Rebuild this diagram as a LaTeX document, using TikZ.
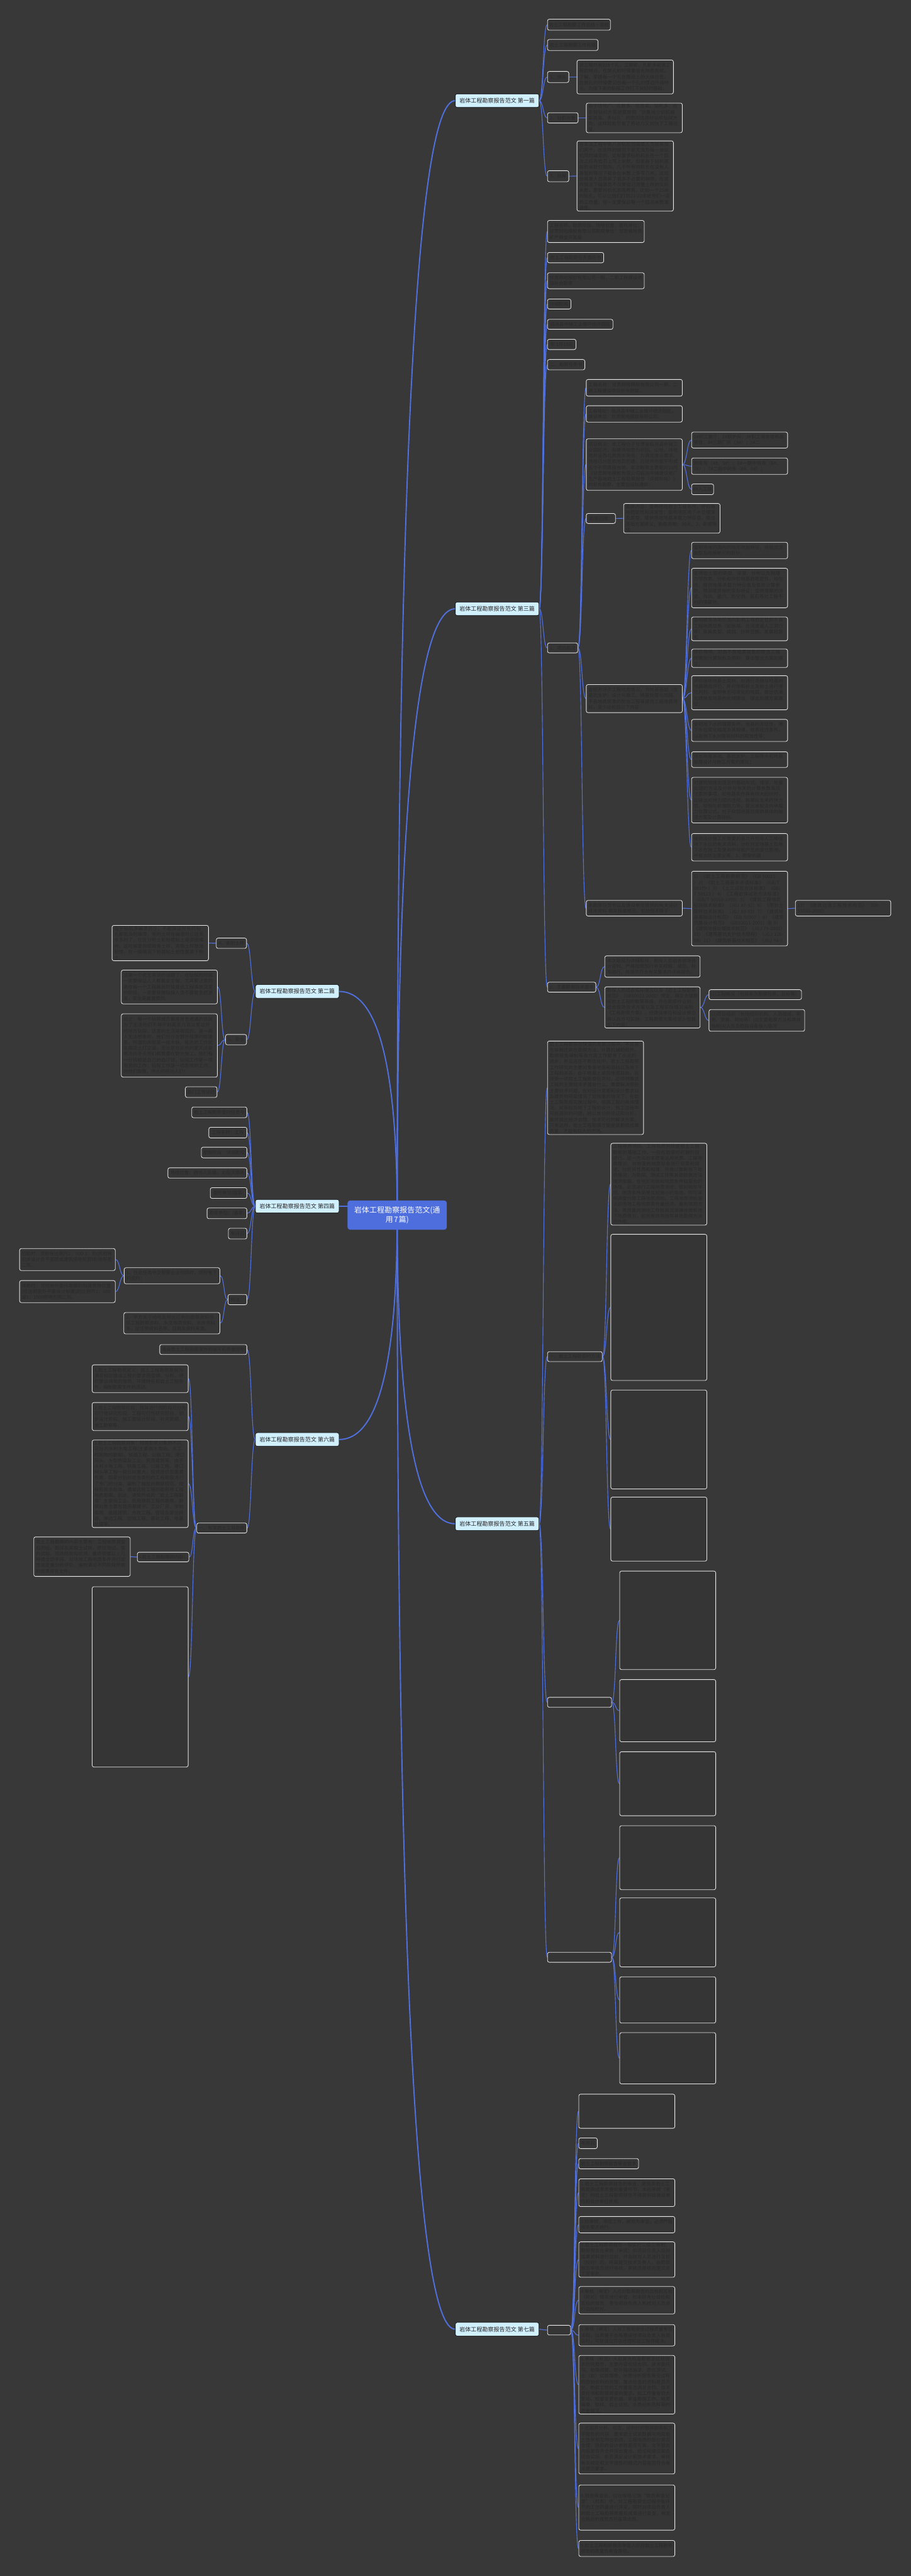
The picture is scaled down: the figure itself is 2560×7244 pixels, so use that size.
\documentclass[tikz,border=0pt]{standalone}
\usepackage{fontspec}
\setmainfont{Noto Sans CJK SC}
\XeTeXlinebreaklocale "zh"
\XeTeXlinebreakskip=0pt plus 1pt
\usetikzlibrary{calc}
\definecolor{bgc}{RGB}{57,56,56}
\definecolor{boxfill}{RGB}{54,53,53}
\definecolor{boxtext}{RGB}{42,41,41}
\definecolor{boxline}{RGB}{232,232,232}
\definecolor{lnk}{RGB}{80,112,222}
\definecolor{lblfill}{RGB}{208,240,253}
\definecolor{ctrfill}{RGB}{77,110,220}
\pgfdeclarelayer{bg}
\pgfsetlayers{bg,main}
\tikzset{
 bx/.style={draw=boxline, line width=1.5pt, rounded corners=5pt, fill=boxfill, text=boxtext, inner xsep=6pt, inner ysep=3pt, align=left, font=\fontsize{13}{16.3}\selectfont},
 sbx/.style={draw=boxline, line width=1.5pt, rounded corners=5pt, fill=boxfill, text=boxtext, inner xsep=2pt, inner ysep=2pt, font=\fontsize{13}{16.3}\selectfont},
 lbl/.style={draw=black, line width=1pt, rounded corners=5pt, fill=lblfill, text=black!85, inner sep=1pt, font=\fontsize{16}{19}\selectfont},
 ctr/.style={draw=none, rounded corners=7pt, fill=ctrfill, text=white, inner sep=0pt, align=center, font=\fontsize{21}{28}\selectfont},
 trunk/.style={draw=lnk, line width=3.4pt},
 lk/.style={draw=lnk, line width=2pt},
}
\newcommand\mkbox[6]{%
 \pgfmathsetmacro\mbw{#4-#2}\pgfmathsetmacro\mbh{#5-#3}%
 \pgfmathsetmacro\mbx{(#2+#4)/2}\pgfmathsetmacro\mby{(#3+#5)/2}%
 \pgfmathsetmacro\mbt{#4-#2-12}%
 \node[bx, minimum width=\mbw pt, minimum height=\mbh pt, text width=\mbt pt] (#1) at (\mbx,\mby) {#6};}
\newcommand\mksbox[6]{%
 \pgfmathsetmacro\mbw{#4-#2}\pgfmathsetmacro\mbh{#5-#3}%
 \pgfmathsetmacro\mbx{(#2+#4)/2}\pgfmathsetmacro\mby{(#3+#5)/2}%
 \node[sbx, minimum width=\mbw pt, minimum height=\mbh pt] (#1) at (\mbx,\mby) {#6};}
\newcommand\mklabel[6]{%
 \pgfmathsetmacro\mbw{#4-#2}\pgfmathsetmacro\mbh{#5-#3}%
 \pgfmathsetmacro\mbx{(#2+#4)/2}\pgfmathsetmacro\mby{(#3+#5)/2}%
 \node[lbl, minimum width=\mbw pt, minimum height=\mbh pt] (#1) at (\mbx,\mby) {#6};}
\newcommand\lnkR[2]{\draw[lk] (#1.east) .. controls +(12,0) and +(-12,0) .. (#2.west);}
\newcommand\lnkL[2]{\draw[lk] (#1.west) .. controls +(-12,0) and +(12,0) .. (#2.east);}
\begin{document}
\begin{tikzpicture}[x=1pt,y=-1pt]
\useasboundingbox (0,0) rectangle (2560,7244);
\begin{pgfonlayer}{bg}
\fill[bgc] (0,0) rectangle (2560,7244);
\end{pgfonlayer}

% centre
\node[ctr, minimum width=279pt, minimum height=82pt, text width=268pt] (ct) at (1116.5,3417) {岩体工程勘察报告范文(通\\用7篇)};

% branch labels
\mklabel{L1}{1280}{264}{1515}{302}{岩体工程勘察报告范文 第一篇}
\mklabel{L3}{1280}{1693}{1515}{1731}{岩体工程勘察报告范文 第三篇}
\mklabel{L5}{1280}{4266}{1515}{4304}{岩体工程勘察报告范文 第五篇}
\mklabel{L7}{1280}{6531}{1515}{6569}{岩体工程勘察报告范文 第七篇}
\mklabel{L2}{718}{2769}{953}{2807}{岩体工程勘察报告范文 第二篇}
\mklabel{L4}{718}{3373}{953}{3411}{岩体工程勘察报告范文 第四篇}
\mklabel{L6}{718}{4029}{953}{4067}{岩体工程勘察报告范文 第六篇}

% ---------- branch 1
\mksbox{b1a}{1539}{54}{1716}{85}{岩土工程勘察工作总结·总结}
\mksbox{b1b}{1539}{111}{1681}{142}{岩土工程勘察工作总结}
\mksbox{b1c}{1539}{201}{1599}{232}{1、放孔}
\mkbox{b1c1}{1622}{169}{1893}{264}{该工程共有216个孔，工期紧，孔数多是该工程的特点，在放孔的时候要首先熟悉图纸，了解、掌握每一个孔在图纸上的大体位置，在放孔的时候要记住每一个孔的周边环境特点，为接下来的钻探工作打下良好的基础。}
\mksbox{b1d}{1539}{317}{1625}{346}{2、钻机布置}
\mkbox{b1d1}{1648}{292}{1918}{371}{由于场地广、孔数多、任务紧、钻机多，在安排钻机方面就要按照“劲量减少钻机搬家距离、多钻孔”的原则选择好钻机钻探方向，这样既能节省了劳动力又加快了工程进度。}
\mksbox{b1e}{1539}{480}{1599}{511}{3、钻探}
\mkbox{b1e1}{1622}{398}{1893}{592}{在本次工程中有八台钻机但编录人员就有我们两个，在这样的情况下是无法为每一台钻机同时编录的，这就要求钻机机长在一个回次之后再岩芯上写上米数，但是由于钻机是按照米数付款的，几乎所有的机长在没有人看管的情况下都会在米数上多写几米，这就给编录人员带来了很多不必要的麻烦，在这样情况下编录员不仅要自己测量土样的实际米数，更要对机长加强教育，比如一个25米的钻孔，可以让他们打到21-22米给他们一定的工作量，但一定要保证每一个回次米数准确性。}

% ---------- branch 3
\mkbox{c1}{1539}{620}{1811}{682}{工程名称、勘察阶段、场地位置、委托单位：甘肃刚地膜胶有限公司勘察单位：甘肃省地质矿产勘查开发局}
\mksbox{c2}{1539}{710}{1697}{739}{岩土工程勘察任务委托书}
\mkbox{c3}{1539}{767}{1811}{812}{甘肃刚地膜胶有限公司一期、二期工程建设项目补充勘察}
\mksbox{c4}{1539}{841}{1605}{869}{详细阶段}
\mksbox{c5}{1539}{898}{1723}{926}{临洮县中铺工业循环经济园区}
\mksbox{c6}{1539}{954}{1619}{983}{年 1月18日}
\mksbox{c7}{1539}{1011}{1644}{1040}{二、勘察任务书}
\mksbox{c8}{1539}{1808}{1624}{1836}{1、项目概况}
\mkbox{c8a}{1648}{1067}{1918}{1114}{工程名称：甘肃刚地膜胶有限公司一期、二期工程建设项目补充勘察。}
\mkbox{c8b}{1648}{1141}{1918}{1187}{工程地址：临洮县中铺工业循环经济园区。\\建设单位：甘肃刚地膜胶有限公司。}
\mkbox{c8c}{1648}{1234}{1918}{1379}{项目概况：本工程位于甘肃省临洮县中铺工业园区内，拟建场地原为农田、山地，场地地形呈西北高而东南低，为满足建设要求，场地已分区依地势而建，后经场地整平形成五个不同高程台地，本次勘察主要是对10月《甘肃刚地膜胶有限公司临洮中铺建设新厂生产基地岩土工程勘察报告（详细阶段）》的补充勘察，主要包括拟建的：}
\mkbox{c8c1}{1944}{1215}{2214}{1260}{1\#职工餐厅；2\#锅炉房；3\#职工宿舍楼和高管楼；4\#三期厂房（3\#）；5\#二}
\mkbox{c8c2}{1944}{1288}{2214}{1334}{期库房（4\#、5\#）；6\#一期中转库（6\#、7\#）；7\#二期中转库（8\#、9\#）；}
\mksbox{c8c3}{1944}{1361}{2006}{1391}{8\#人工湖}
\mksbox{c8d}{1648}{1444}{1730}{1472}{勘察范围：}
\mkbox{c8d1}{1753}{1418}{2024}{1497}{勘察内容：查明场地岩土工程条件，评价场地稳定性和适宜性；查明场区地下水位埋深及类型，提供场地地基承载力特征值，提出基础方案建议；勘察周期：30天。2、勘察等级}
\mkbox{c8e}{1648}{1925}{1918}{2004}{查明并评价工程地质情况，为地基基础（含基坑支护）设计与施工、地基处理与加固、不良地质现象的防治工程等提供工程地质资料，至少应包括以下内容：}
\mkbox{e1}{1944}{1525}{2214}{1571}{查明场地范围内的地形地貌特征，地貌成因类型及地貌单元的划分；}
\mkbox{e2}{1944}{1598}{2214}{1709}{查明岩土层的类型、深度、分布以及物理力学性质，分析和评价地基的稳定性、均匀性，提供地基承载力特征值及变形计算参数，预测建筑物的变形特征；查明埋藏的河道、沟浜、墓穴、防空洞、孤石等对工程不利的埋藏物。}
\mkbox{e3}{1944}{1738}{2214}{1799}{查明建筑场地范围内影响工程稳定性的不良工程地质现象（如崩塌、古河道或人工洞穴等）及其类型、成因、分布范围、发展趋势和}
\mkbox{e4}{1944}{1829}{2214}{1873}{评价场地、对由不良地质现象的防治工程所需的计算指标及资料，提出整治方案的建议；}
\mkbox{e5}{1944}{1900}{2214}{1996}{评价场地地基土类别，对进行场地与地基的地震效应评价，并对饱和砂土及粉土进行液化判别，查明有无可液化的地层，提出抗液化措施及地基的处理建议，提出处理方案建议；}
\mkbox{e6}{1944}{2023}{2214}{2085}{查明地下水的埋藏条件，地基的冻结性，地下水位变化幅度及其规律，地表径流条件，以及地下水对建筑材料的腐蚀性等；}
\mkbox{e7}{1944}{2114}{2214}{2158}{提出地基基础、基坑支护、工程降水和地基处理设计与施工方案的建议；}
\mkbox{e8}{1944}{2186}{2214}{2314}{对建筑物提出适宜的基础形式、埋深，地基处理的方法及分析与有关的计算参数及应注意的事项，如地基条件具有较大起伏时，应提出对持力层的选择，桩端应支承的持力层，桩侧与桩端阻力等，提出单桩竖向承载力估算公式，对于软弱地基应提供具体的处理方案及计算指标。}
\mkbox{e9}{1944}{2344}{2214}{2421}{提供设计施工所需要的基坑开挖与人工降低地下水位的有关资料，分析判定地基土及地下水在施工及使用中可能产生的变化影响，并提出防治建议等。3、勘察依据}
\mkbox{c8f}{1648}{2532}{1918}{2576}{本勘察任务书以及建设单位提供的有关设计技术资料 相关标准规范，包括但不限于：}
\mkbox{f1}{1944}{2450}{2214}{2660}{1）《岩土工程勘察规范》（GB 50021-）2）《岩土工程基本术语标准》（GB/T 50279-）3）《土工试验方法标准》（GB/T 50123-）4）《工程岩体试验方法标准》（GB/T 50266-1999）5）《建筑工程地质钻探技术标准》（JGJ 87-92）6）《原状土取样技术标准》（JGJ 89-92）7）《建筑地基基础设计规范》（GB 50007-）8）《建筑抗震设计规范》（GB50011-2001）版 9）《建筑地基处理技术规范》（JGJ 79-2002）10）《建筑基坑支护技术规程》（JGJ 120-99）11）《建筑桩基技术规范》（JGJ 94-）}
\mkbox{f1a}{2236}{2532}{2504}{2576}{12）《建筑边坡工程技术规范》（GB 50330-2002）}
\mksbox{c9}{1539}{2762}{1675}{2790}{2、主要勘察技术要求}
\mkbox{g1}{1700}{2688}{1968}{2748}{本次勘探为详细勘探，勘探人员结合现场设计资料，严格按照现行有关规程、规范、标准进行，并提供符合有关要求的详细报告。}
\mkbox{g2}{1700}{2778}{1968}{2888}{勘探人员结合实际情况以及《岩土工程勘察规范》（GB50021-2001）规定，确定合理勘探岩土工程的勘察等级，并在勘察作业前，结合现场技术方案以及工程实际情况编制《工程勘察方案》，经建设单位和设计单位确认后方可实施。工程勘察方案应至少包括如下内容：}
\mksbox{g2a}{1993}{2783}{2253}{2811}{(1)工程概况（包括本次勘察任务、目标等）}
\mkbox{g2b}{1993}{2839}{2262}{2900}{(2)项目组织（包括组织机构、人员组成、职责、资格、到岗等）(3)主要勘察方法和具体指标(4)人员及勘探设备投入情况}

% ---------- branch 5
\mkbox{d1}{1539}{2929}{1809}{3189}{岩土工程勘察在快速的发展过程中，不论是在体制还是在勘察方法、计算机辅助软件、勘察报告编制等各方面工作都有了长足的进步，并且还在不断优化中。岩土工程勘察工作研究的主要对象是地基和基础以及地下工程的关系，由于地基土是因地而异的，在接受一项岩土工程勘察任务时，必须明确该工程的主要技术矛盾是什么、需要解决哪些主要技术问题，在对设计意图和设计要求以及建筑物荷载情况了如指掌的情况下，在岩土工程勘察实施过程中，根据工程的具体情况，就基础及地下工程的设计、施工过程中可能遇到的问题，给以充分的论证和分析，最终提出经济合理、技术可行的解决方案。只有这样，岩土工程勘察才能提高勘察成果质量，才能有较大的市场。}
\mksbox{d2}{1539}{3801}{1693}{3829}{一、岩土工程勘察的方法}
\mkbox{d2a}{1717}{3216}{1987}{3444}{工程地质测绘。工程地质测绘是岩土工程勘察的基础工作，一般在勘察的初期阶段进行。这一方法的本质是运用地质、工程地质理论，对地面的地质现象进行观察和描述，分析其性质和规律，并借以推断地下地质情况，为勘探、测试工作等其他勘察方法提供依据。在地形地貌和地质条件较复杂的场地，必须进行工程地质测绘；但对地形平坦、地质条件简单且较狭小的场地，则可采用调查代替工程地质测绘。工程地质测绘是认识场地工程地质条件最经济、最有效的方法，高质量的测绘工作能相当准确地推断地下地质情况，起到有效地指导其他勘察方法的作用。}
\mkbox{d2b}{1717}{3471}{1987}{3882}{}
\mkbox{d2c}{1717}{3909}{1987}{4187}{}
\mkbox{d2d}{1717}{4210}{1987}{4390}{}
\mksbox{d3}{1539}{4773}{1719}{4801}{}
\mkbox{d3a}{1742}{4418}{2012}{4695}{}
\mkbox{d3b}{1742}{4723}{2012}{4898}{}
\mkbox{d3c}{1742}{4926}{2012}{5106}{}
\mksbox{d4}{1539}{5490}{1719}{5518}{}
\mkbox{d4a}{1742}{5134}{2012}{5314}{}
\mkbox{d4b}{1742}{5337}{2012}{5531}{}
\mkbox{d4c}{1742}{5559}{2012}{5689}{}
\mkbox{d4d}{1742}{5716}{2012}{5860}{}

% ---------- branch 7
\mksbox{h0}{1539}{6539}{1604}{6566}{}
\mkbox{h1}{1627}{5889}{1897}{5985}{}
\mksbox{h2}{1627}{6012}{1679}{6042}{年月日}
\mksbox{h3}{1627}{6070}{1795}{6099}{岩土工程勘察报告审查要求}
\mkbox{h4}{1627}{6127}{1897}{6205}{1.岩土工程勘察报告的审查，是提高岩土工程勘察成果质量的重要环节，未经审核（审定）的岩土工程勘察报告不得提供给建设单位和设计单位使用。}
\mkbox{h5}{1627}{6233}{1897}{6279}{2.校审核、审定工作，统称为审查，必须严格按本要求进行。}
\mkbox{h6}{1627}{6307}{1897}{6401}{3.岩土工程勘察报告一般实行三级三审制。勘察报告在审核（审定）前项目负责人应对成果资料进行自检，并由校对人员进行互检（校对）后，将其提交技术负责人，由勘察报告审核员进行审核，审核员审核后提交总工室审定。}
\mkbox{h7}{1627}{6430}{1897}{6507}{4.审核（审定）人应对勘察报告的自检和互检（校对）情况进行审查，对未经充分自检和互检的报告，责令项目负责人和校对人员进行自检校对。}
\mkbox{h8}{1627}{6537}{1897}{6597}{5.审核（审定）人对工程勘察全过程质量有否决权，当质量不合格需返修项目负责人有异议时，可提请公司总经理和总工程师裁决。}
\mkbox{h9}{1627}{6626}{1897}{6786}{6.审核（审定）人应首先检查勘察全过程技术的完整性，主要内容包括合同、技术委托书、勘察纲要、野外描述编录、原位测试、土（岩）试验报告、水质分析报告等全过程的原始资料的完整，重点检查的资料是否齐全，勘察工作的工作量是否满足合同、技术委托书和勘察纲要的要求，如工作量有较大变动，检查变更依据。审查勘探工作、地质编录、取样、岩土试验、水质分析资料等的质量情况。}
\mkbox{h10}{1627}{6814}{1897}{6957}{7.在图表分析、检查、绘制好的勘察图表和文字报告的内容，要求岩土试验数据与地层岩土性状相互吻合协调，工程地质的划分是否合理，提供的设计参数是否可靠，文字报告内容是否齐全并突出重点，结论和建议是否切合实际，能否满足设计和技术要求，审核有关规定和文字报告的格式内容是否符合有关规范要求。}
\mkbox{h11}{1627}{6988}{1897}{7115}{8.报告审查后，应在审核记录“报告审查记录”（附表）中，对工程勘察全过程中各环节的工作质量进行评定，同时对项目负责人的岩土工程勘察质量和成果进行复查，审定合格后的报告方可盖章出版。}
\mkbox{h12}{1627}{7144}{1897}{7189}{9.岩土工程勘察报告审查人应对岩土工程勘察报告的质量负审查责任。}

% ---------- branch 2
\mksbox{k1}{608}{2638}{693}{2667}{4、鉴别土样}
\mkbox{k1a}{315}{2604}{586}{2700}{由于钻机多编录员少，不能保证所有的钻孔都能及时编录，有的土样在编录时已经失水多时了，在区分粉土和粉质粘土是很困难的，这时候要用眼睛看土样，观察土样整体韧性，在一般情况下粉质粘土韧性要高于粉土。}
\mksbox{k2}{634}{2909}{693}{2938}{5、安全}
\mkbox{k2a}{341}{2728}{611}{2823}{这是一个老生常谈的话题了，在钻探的时候一定要保证人人都戴安全帽，尤其要注意的是在每一个工程最后阶段是该工程事故突发的阶段，一定要提醒钻探人员不要着急赶进度，安全是最重要的。}
\mkbox{k2b}{341}{2851}{611}{3029}{后记：每一个钻探成员都是普普通通的农民为了生活他们不得不到离家几百公里以外的地方钻探，这里的生活是艰苦的，是一般人无法想象的，他们住在在野外搭建的帐篷里，所谓的床就是一张木板，每天的工作就是跟泥土打交道，无论是在炎热的夏天还是寒冷的冬天他们都需要在野外施工，他们每一分钱都是自己的血汗钱。钻探工作是一项艰苦的工作，钻探工作是一项危险的工作，向他们致敬，伟大的劳动人们！}
\mksbox{k2c}{521}{3056}{610}{3086}{部门工作总结}

% ---------- branch 4
\mksbox{m1}{539}{3113}{694}{3143}{岩土工程勘察委托任务书}
\mksbox{m2}{587}{3170}{694}{3200}{工程名称：工程}
\mksbox{m3}{566}{3226}{694}{3256}{勘察阶段：详细勘察}
\mksbox{m4}{472}{3284}{694}{3313}{场地位置：西邻人民路，北临滨康路}
\mksbox{m5}{591}{3340}{694}{3370}{委托单位(盖章)}
\mksbox{m6}{582}{3397}{694}{3427}{勘察单位：(盖章)}
\mksbox{m7}{642}{3454}{694}{3484}{年月日}
\mksbox{m8}{641}{3640}{694}{3669}{附注：}
\mkbox{m8a}{349}{3565}{618}{3610}{1、在此任务书交勘察企业的同时，须附有下列资料：}
\mkbox{m8a1}{55}{3511}{324}{3573}{初勘时：须附有比例尺1：500-1：的(并附有初步设计总平面图或建筑场地轮廓线)地形图二张。}
\mkbox{m8a2}{55}{3601}{324}{3663}{详勘时：须附有所委托勘察的拟建筑物位置(应注明室外平面设计标高)的比例尺1：500或1：1000的地形图二张。}
\mkbox{m8b}{348}{3691}{618}{3751}{2、甲方关于场地及附近已有的勘察资料包括工程勘察资料、水文地质资料、水井资料等，应注明资料名称、日期及资料来源。}

% ---------- branch 6
\mksbox{n1}{449}{3781}{694}{3809}{浅谈岩土工程勘察报告的编写和质量控制}
\mksbox{n2}{553}{4283}{694}{4311}{一、有关岩土工程勘察}
\mkbox{n2a}{259}{3838}{529}{3916}{1.岩土工程勘察定义：岩土工程勘察是指为满足相应建设工程的要求而查明、分析、评价建设场地的地质、环境特征和岩土工程条件，编制勘察文件的活动。}
\mkbox{n2b}{259}{3944}{529}{4023}{2.岩土工程勘察阶段：按其进行的阶段可分为可行性研究阶段、工程可行性研究阶段、初步设计阶段、施工图设计阶段、补充勘察、施工勘察等。}
\mkbox{n2c}{259}{4051}{529}{4294}{3.岩土工程勘察对象：根据勘察对象的不同，可分为水利水电工程(主要指水电站、水工构筑物的勘察)、铁路工程、公路工程、港口码头、大型桥梁及工业、民用建筑等。由于水利水电工程、铁路工程、公路工程、港口码头等工程一般比较重大，投资造价及重要性高，国家分别对这些类别的工程勘察进行了专门的分类，编制了相应的勘察规范、规程和技术标准，通常这些工程的勘察称工程地质勘察。因此，通常所说的“岩土工程勘察”主要指工业、民用建筑工程的勘察，勘察对象主要包括房屋楼宇、工业厂房、学校医院、道路建筑、市政工程、管线及架空线路、岸边工程、边坡工程、基坑工程、地基处理等。}
\mksbox{n2d}{388}{4365}{529}{4392}{4.岩土工程勘察的内容：}
\mkbox{n2d1}{95}{4322}{366}{4433}{岩土工程勘察的内容主要有：工程地质调查和测绘、勘探及采取土试样、原位测试、室内试验、现场检验和检测，最终根据以上几种或全部手段，对场地工程地质条件进行定性或定量分析评价，编制满足不同阶段所需的成果报告文件。}
\mkbox{n2e}{259}{4462}{529}{4969}{}

% ---------- connectors
\begin{pgfonlayer}{bg}
\foreach \r in {L1,L3,L5,L7}{\coordinate (k\r) at (ct.center |- \r.west);
 \draw[trunk] (ct.center) .. controls ($(ct.center)!0.667!(k\r)$) and ($(\r.west)!0.667!(k\r)$) .. (\r.west);}
\foreach \l in {L2,L4,L6}{\coordinate (k\l) at (ct.center |- \l.east);
 \draw[trunk] (ct.center) .. controls ($(ct.center)!0.667!(k\l)$) and ($(\l.east)!0.667!(k\l)$) .. (\l.east);}
\foreach \c in {b1a,b1b,b1c,b1d,b1e}{\lnkR{L1}{\c}}
\lnkR{b1c}{b1c1}\lnkR{b1d}{b1d1}\lnkR{b1e}{b1e1}
\foreach \c in {c1,c2,c3,c4,c5,c6,c7,c8,c9}{\lnkR{L3}{\c}}
\foreach \c in {c8a,c8b,c8c,c8d,c8e,c8f}{\lnkR{c8}{\c}}
\foreach \c in {c8c1,c8c2,c8c3}{\lnkR{c8c}{\c}}
\lnkR{c8d}{c8d1}
\foreach \c in {e1,e2,e3,e4,e5,e6,e7,e8,e9}{\lnkR{c8e}{\c}}
\lnkR{c8f}{f1}\lnkR{f1}{f1a}
\lnkR{c9}{g1}\lnkR{c9}{g2}\lnkR{g2}{g2a}\lnkR{g2}{g2b}
\foreach \c in {d1,d2,d3,d4}{\lnkR{L5}{\c}}
\foreach \c in {d2a,d2b,d2c,d2d}{\lnkR{d2}{\c}}
\foreach \c in {d3a,d3b,d3c}{\lnkR{d3}{\c}}
\foreach \c in {d4a,d4b,d4c,d4d}{\lnkR{d4}{\c}}
\lnkR{L7}{h0}
\foreach \c in {h1,h2,h3,h4,h5,h6,h7,h8,h9,h10,h11,h12}{\lnkR{h0}{\c}}
\lnkL{L2}{k1}\lnkL{L2}{k2}\lnkL{k1}{k1a}
\foreach \c in {k2a,k2b,k2c}{\lnkL{k2}{\c}}
\foreach \c in {m1,m2,m3,m4,m5,m6,m7,m8}{\lnkL{L4}{\c}}
\lnkL{m8}{m8a}\lnkL{m8}{m8b}\lnkL{m8a}{m8a1}\lnkL{m8a}{m8a2}
\lnkL{L6}{n1}\lnkL{L6}{n2}
\foreach \c in {n2a,n2b,n2c,n2d,n2e}{\lnkL{n2}{\c}}
\lnkL{n2d}{n2d1}
\end{pgfonlayer}
\end{tikzpicture}
\end{document}
